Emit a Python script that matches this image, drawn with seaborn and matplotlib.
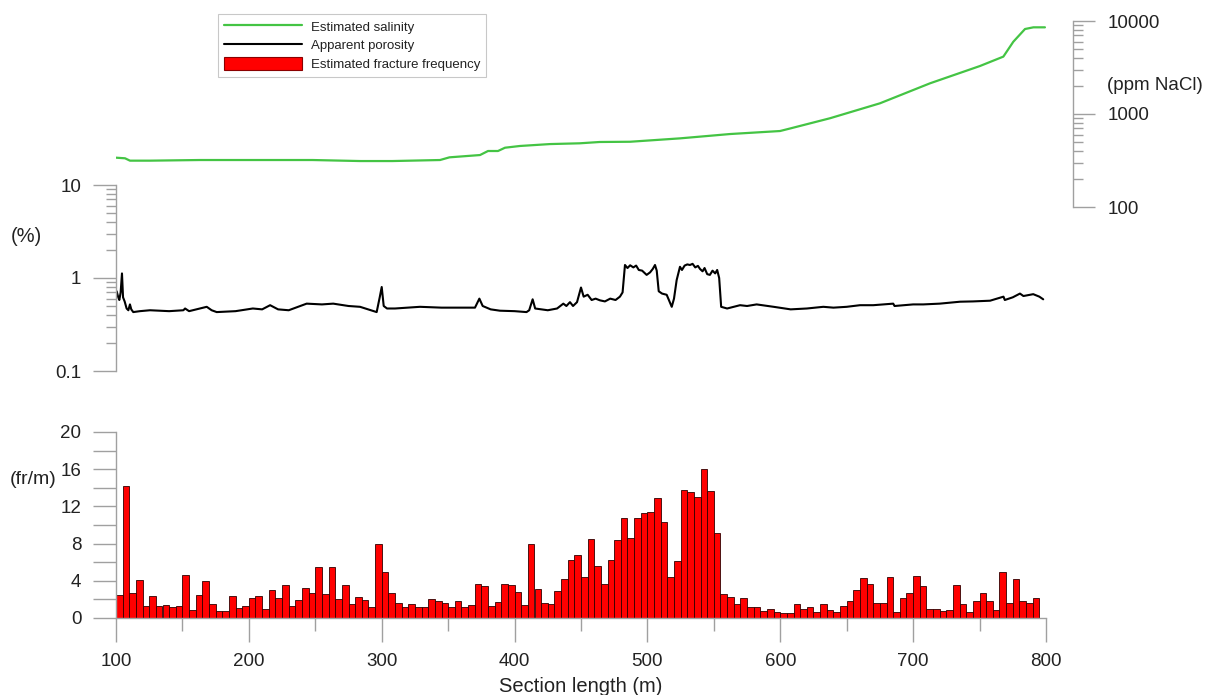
import numpy as np
import pandas as pd
import matplotlib
matplotlib.use("Agg")
import matplotlib.pyplot as plt
import seaborn as sns
from matplotlib.lines import Line2D
from matplotlib.patches import Patch
from matplotlib.ticker import LogLocator, NullFormatter

# ---------------- data ----------------
sal_m = [100, 106.8, 110.5, 125.6, 163, 248, 283.7, 308, 343.9, 351, 374, 380,
         387.5, 392.8, 404, 426.7, 449, 464, 486.9, 524.5, 562.2, 599.8, 607.8,
         637.4, 675, 712.7, 750.3, 767.9, 775.4, 784.2, 790.5, 799.2]
sal_ppm = [339, 334, 315, 315, 320, 320, 312, 312, 320, 342, 362, 400,
           400, 434, 453, 475, 484, 500, 503, 547, 609, 656, 701,
           900, 1303, 2138, 3281, 4140, 5985, 8200, 8550, 8550]

por_m = [100.5, 101.7, 102.5, 103.5, 104.5, 105.3, 106.5, 108, 109.3, 110.5, 111.5, 113,
         118, 125.6, 140, 150.7, 152, 155, 168.3, 172, 175.8, 190, 203, 210, 216, 222,
         230, 243.5, 255, 263.5, 275, 283.7, 294, 296.2, 298.5, 300, 301.5, 304, 310,
         328.8, 345, 360, 370.2, 373.5, 376, 382, 389, 400, 409, 411, 413.6, 415.5,
         425, 432, 436.7, 439, 441.7, 444, 447, 450, 452, 455, 458, 461, 464.3, 468,
         472, 476, 479.3, 481.3, 483.1, 485, 487, 489.4, 491.5, 493.5, 496, 499.4,
         502, 504, 505.7, 507, 508.5, 511, 514.5, 518.3, 520, 522, 524.5, 526, 528,
         530, 532, 534, 536, 538, 539.6, 541.5, 543, 545, 547, 549, 551, 552.5, 554,
         555.5, 560, 569.7, 575, 582.2, 595, 607.8, 620, 632.4, 640, 650, 660, 670,
         685, 686, 700, 707.6, 720, 735.3, 745, 757.9, 768, 769, 775, 780.4, 783,
         790.4, 795, 797.9]
por_pct = [0.72, 0.62, 0.58, 0.70, 1.12, 0.62, 0.56, 0.47, 0.45, 0.52, 0.46, 0.43,
           0.44, 0.45, 0.44, 0.45, 0.47, 0.44, 0.49, 0.45, 0.43, 0.44, 0.47, 0.46, 0.51, 0.46,
           0.45, 0.53, 0.52, 0.53, 0.50, 0.49, 0.44, 0.43, 0.62, 0.80, 0.50, 0.47, 0.47,
           0.49, 0.48, 0.48, 0.48, 0.60, 0.50, 0.46, 0.445, 0.44, 0.43, 0.45, 0.59, 0.47,
           0.45, 0.47, 0.53, 0.50, 0.55, 0.50, 0.55, 0.79, 0.63, 0.66, 0.58, 0.60, 0.575, 0.56,
           0.60, 0.58, 0.63, 0.70, 1.38, 1.28, 1.37, 1.30, 1.36, 1.22, 1.20, 1.08,
           1.15, 1.25, 1.38, 1.20, 0.72, 0.68, 0.66, 0.49, 0.60, 0.95, 1.32, 1.22, 1.36,
           1.40, 1.38, 1.42, 1.30, 1.35, 1.25, 1.18, 1.28, 1.10, 1.08, 1.20, 1.12, 1.22, 1.00,
           0.49, 0.47, 0.51, 0.50, 0.52, 0.49, 0.46, 0.47, 0.49, 0.48, 0.49, 0.51, 0.51,
           0.53, 0.50, 0.52, 0.52, 0.53, 0.556, 0.56, 0.57, 0.63, 0.58, 0.62, 0.68, 0.64,
           0.67, 0.63, 0.59]

frac_bin_start = list(range(100, 795, 5))
frac_freq = [2.5, 14.2, 2.7, 4.1, 1.3, 2.4, 1.3, 1.4, 1.2, 1.3,
             4.6, 0.9, 2.5, 4.0, 1.5, 0.7, 0.75, 2.4, 1.1, 1.3,
             2.1, 2.4, 1.0, 3.0, 2.2, 3.5, 1.3, 1.9, 3.2, 2.7,
             5.5, 2.6, 5.5, 2.0, 3.5, 1.5, 2.3, 1.9, 1.2, 8.0,
             4.9, 2.7, 1.6, 1.2, 1.5, 1.2, 1.2, 2.0, 1.8, 1.6,
             1.2, 1.8, 1.2, 1.4, 3.7, 3.4, 1.3, 1.7, 3.7, 3.5,
             2.8, 1.4, 8.0, 3.1, 1.6, 1.5, 2.9, 4.2, 6.2, 6.8,
             4.4, 8.5, 5.6, 3.7, 6.2, 8.4, 10.7, 8.6, 10.8, 11.3,
             11.4, 12.9, 10.3, 4.4, 6.1, 13.8, 13.6, 13.0, 16.0, 13.7,
             9.1, 2.6, 2.3, 1.5, 2.1, 1.2, 1.2, 0.8, 1.0, 0.6,
             0.55, 0.5, 1.5, 1.0, 1.2, 0.6, 1.5, 0.9, 0.6, 1.3,
             1.8, 3.0, 4.3, 3.7, 1.6, 1.6, 4.4, 0.6, 2.1, 2.7,
             4.5, 3.4, 1.0, 1.0, 0.7, 0.9, 3.5, 1.5, 0.6, 1.8,
             2.7, 1.8, 0.9, 5.0, 1.6, 4.2, 1.8, 1.6, 2.1]

x_ticks = [100, 200, 300, 400, 500, 600, 700, 800]
sal_ticks = [100, 1000, 10000]
por_ticks = [0.1, 1, 10]
frac_ticks = [0, 4, 8, 12, 16, 20]

# ---------------- style ----------------
sns.set_style("white")
plt.rcParams['font.family'] = ['Liberation Sans', 'DejaVu Sans']
GREY = '#a0a0a0'
TXT = '#222222'
GREEN = '#44c444'
TICKFS = 13.5

fig = plt.figure(figsize=(12.05, 6.95), dpi=100)
L = 116 / 1205
W = 930 / 1205
H = 186 / 695
ax_sal = fig.add_axes([L, 1 - 207 / 695, W, H])
ax_por = fig.add_axes([L, 1 - 371 / 695, W, H])
ax_fr = fig.add_axes([L, 1 - 618 / 695, W, H])
for ax in (ax_sal, ax_por, ax_fr):
    ax.patch.set_alpha(0)
    for s in ax.spines.values():
        s.set_color(GREY)
        s.set_linewidth(1.0)
        s.set_visible(False)

# salinity
sal_df = pd.DataFrame({'m': sal_m, 'ppm': sal_ppm})
sns.lineplot(data=sal_df, x='m', y='ppm', ax=ax_sal, color=GREEN, linewidth=1.6,
             estimator=None, sort=False)
ax_sal.set_yscale('log')
ax_sal.set_ylim(100, 10000)
ax_sal.spines['right'].set_visible(True)
ax_sal.spines['right'].set_position(('outward', 19.5))
ax_sal.yaxis.tick_right()
ax_sal.set_yticks(sal_ticks, labels=[str(v) for v in sal_ticks])
ax_sal.yaxis.set_minor_locator(LogLocator(base=10, subs=np.arange(2, 10)))
ax_sal.yaxis.set_minor_formatter(NullFormatter())
ax_sal.tick_params(axis='y', which='major', length=16, width=1, color=GREY,
                   labelsize=TICKFS, labelcolor=TXT, pad=9, direction='out')
ax_sal.tick_params(axis='y', which='minor', length=7, width=1, color=GREY, direction='out')
ax_sal.set_xticks([])
ax_sal.set_xlabel('')
ax_sal.set_ylabel('')

# porosity
por_df = pd.DataFrame({'m': por_m, 'pct': por_pct})
sns.lineplot(data=por_df, x='m', y='pct', ax=ax_por, color='black', linewidth=1.5,
             estimator=None, sort=False)
ax_por.set_yscale('log')
ax_por.set_ylim(0.1, 10)
ax_por.spines['left'].set_visible(True)
ax_por.set_yticks(por_ticks, labels=['0.1', '1', '10'])
ax_por.yaxis.set_minor_locator(LogLocator(base=10, subs=np.arange(2, 10)))
ax_por.yaxis.set_minor_formatter(NullFormatter())
ax_por.tick_params(axis='y', which='major', length=16.5, width=1, color=GREY,
                   labelsize=TICKFS, labelcolor=TXT, pad=8.5, direction='out', left=True)
ax_por.tick_params(axis='y', which='minor', length=7, width=1, color=GREY,
                   direction='out', left=True)
ax_por.set_xticks([])
ax_por.set_xlabel('')
ax_por.set_ylabel('')

# fracture frequency
fr_df = pd.DataFrame({'center': [b + 2.5 for b in frac_bin_start], 'freq': frac_freq})
sns.histplot(data=fr_df, x='center', weights='freq', binwidth=5, binrange=(100, 795),
             ax=ax_fr, color='#ff0000', edgecolor='#300000', linewidth=0.6, alpha=1.0)
ax_fr.set_ylim(0, 20)
ax_fr.spines['left'].set_visible(True)
ax_fr.spines['bottom'].set_visible(True)
ax_fr.set_yticks(frac_ticks, labels=[str(v) for v in frac_ticks])
ax_fr.set_yticks([2, 6, 10, 14, 18], minor=True)
ax_fr.set_xticks(x_ticks, labels=[str(v) for v in x_ticks])
ax_fr.set_xticks([150, 250, 350, 450, 550, 650, 750], minor=True)
ax_fr.tick_params(axis='y', which='both', length=16.5, width=1, color=GREY,
                  labelsize=TICKFS, labelcolor=TXT, pad=8.5, direction='out', left=True)
ax_fr.tick_params(axis='x', which='major', length=17, width=1, color=GREY,
                  labelsize=TICKFS, labelcolor=TXT, pad=8, direction='out', bottom=True)
ax_fr.tick_params(axis='x', which='minor', length=9.5, width=1, color=GREY,
                  direction='out', bottom=True)
ax_fr.set_xlabel('')
ax_fr.set_ylabel('')

for ax in (ax_sal, ax_por, ax_fr):
    ax.set_xlim(100, 800)

# axis unit labels
fig.text(26 / 1205, 1 - 236 / 695, '(%)', fontsize=14.5, color=TXT, ha='center', va='center')
fig.text(33 / 1205, 1 - 480 / 695, '(fr/m)', fontsize=14, color=TXT, ha='center', va='center')
fig.text(1107 / 1205, 1 - 85 / 695, '(ppm NaCl)', fontsize=13.5, color=TXT, ha='left', va='center')
fig.text(581 / 1205, 1 - 687 / 695, 'Section length (m)', fontsize=14.5, color=TXT,
         ha='center', va='center')

# legend
handles = [Line2D([0], [0], color=GREEN, linewidth=1.6),
           Line2D([0], [0], color='black', linewidth=1.5),
           Patch(facecolor='#ff0000', edgecolor='#8a0000', linewidth=0.8)]
labels = ['Estimated salinity', 'Apparent porosity', 'Estimated fracture frequency']
leg = fig.legend(handles, labels, loc='upper left', bbox_to_anchor=(218 / 1205, 1 - 14 / 695),
                 frameon=True, fancybox=False, edgecolor='#bbbbbb', fontsize=9.5,
                 handlelength=5.9, handleheight=1.14, handletextpad=0.7, labelspacing=0.33,
                 borderpad=0.45, borderaxespad=0)
leg.get_frame().set_linewidth(0.8)
for t in leg.get_texts():
    t.set_color(TXT)

fig.savefig('out.png', dpi=100)
